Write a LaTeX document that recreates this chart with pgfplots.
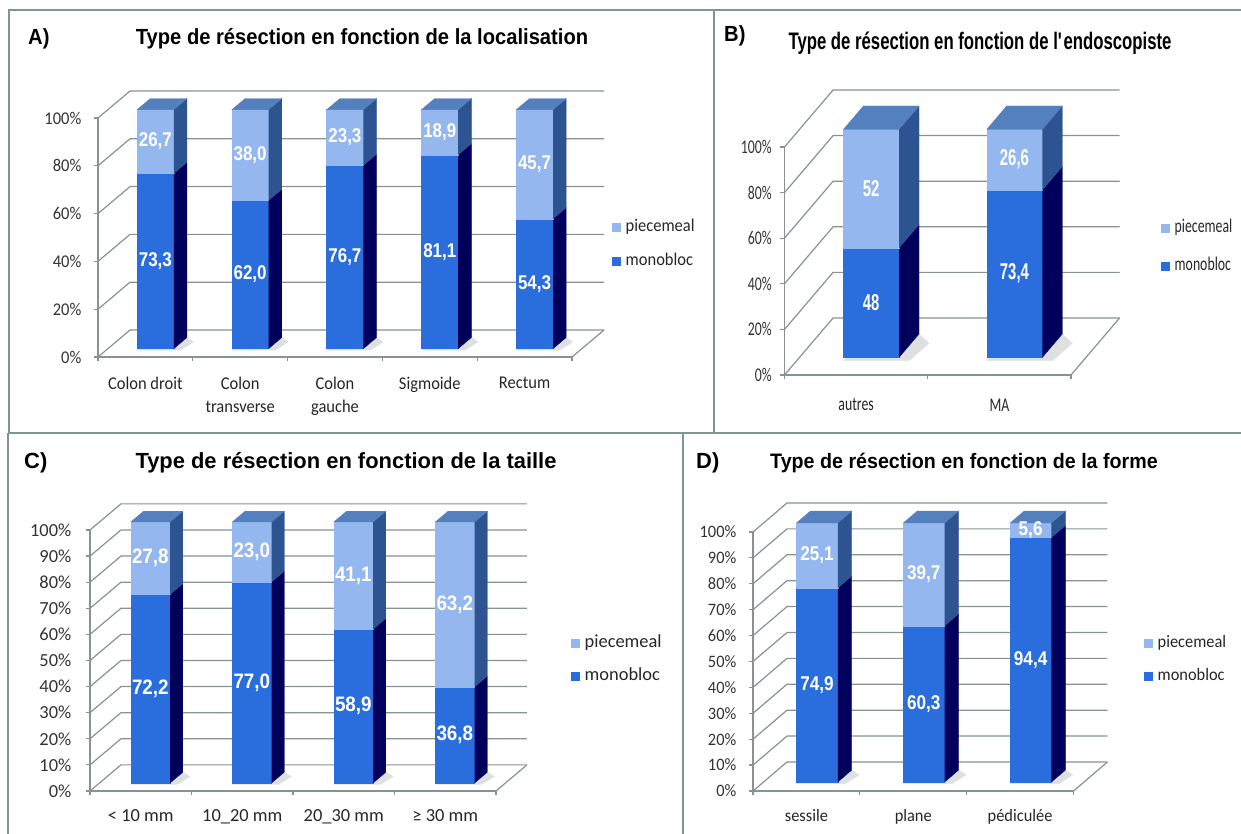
\documentclass[border=0pt]{standalone}
\usepackage{fontspec}
\usepackage{pgfplots}
\pgfplotsset{compat=1.18}
\setmainfont{Carlito}
\newfontfamily\cfA[FakeStretch=0.92]{Carlito}
\newfontfamily\cfB[FakeStretch=0.71]{Carlito}
\newfontfamily\cfC{Carlito}
\newfontfamily\cfD[FakeStretch=0.94]{Carlito}
\newfontfamily\afA[FakeStretch=0.92]{Liberation Sans}
\newfontfamily\afB[FakeStretch=0.70]{Liberation Sans}
\newfontfamily\afC{Liberation Sans}
\newfontfamily\afD[FakeStretch=0.94]{Liberation Sans}
\newfontfamily\nfA[FakeStretch=0.85]{Liberation Sans}
\newfontfamily\nfB[FakeStretch=0.65]{Liberation Sans}
\newfontfamily\nfC[FakeStretch=0.90]{Liberation Sans}
\newfontfamily\nfD[FakeStretch=0.86]{Liberation Sans}

\definecolor{monoF}{HTML}{2A6DDC}
\definecolor{monoS}{HTML}{00005C}
\definecolor{pieceF}{HTML}{93B7EE}
\definecolor{pieceS}{HTML}{2D5391}
\definecolor{topF}{HTML}{5580BE}
\definecolor{gridc}{HTML}{869393}
\definecolor{framec}{HTML}{7E9595}
\definecolor{shad}{HTML}{DDE0E0}

% bar geometry in axis units: width, front depth, bar depth
\def\bw{0.39}
\def\fo{0.31}
\def\bd{0.41}

\pgfplotsset{
  gridline/.style={draw=gridc, line width=1.2bp, mark=none, forget plot},
  face/.style={fill=#1, draw=#1, line width=0.3bp, mark=none, forget plot},
  vals/.style={draw=none, mark=none, forget plot, nodes near coords,
    point meta=explicit symbolic, nodes near coords align={center},
    every node near coord/.append style={text=white, inner sep=0pt}},
  tdaxis/.style={
    scale only axis, anchor=south west, clip=false,
    xmin=0.5, ymin=0, ymax=100,
    axis lines*=left,
    axis line style={draw=gridc, line width=1.2bp},
    tick style={draw=gridc, line width=1.2bp},
    tick align=outside, major tick length=4.5bp,
    x tick label as interval,
    xticklabel style={align=center, text=black!85, inner sep=0pt, anchor=north},
    yticklabel style={text=black!80, inner sep=0pt, anchor=east},
    legend cell align=left,
    legend image code/.code={\fill[##1] (0bp,-4.5bp) rectangle (8.5bp,4.5bp);
      \path (0bp,0bp) -- (13bp,0bp);},
    legend style={draw=none, fill=none, anchor=west, inner sep=0pt,
      nodes={inner sep=0.5bp, text height=12bp, text depth=3.5bp, text=black!85}},
  },
}

\newcommand\gline[2]{%
  \pgfmathsetmacro\ga{0.5+\ddx}%
  \pgfmathsetmacro\gb{#1+\ddy}%
  \pgfmathsetmacro\gc{#2+0.5+\ddx}%
  \addplot[gridline] coordinates {(0.5,#1) (\ga,\gb) (\gc,\gb)};
}
\newcommand\floorend[1]{%
  \pgfmathsetmacro\ga{#1+0.5}%
  \pgfmathsetmacro\gc{#1+0.5+\ddx}%
  \addplot[gridline] coordinates {(\ga,0) (\gc,\ddy)};
}
% #1 category, #2 monobloc, #3 piecemeal, #4 #5 their labels
\newcommand\tdbar[5]{%
  \pgfmathsetmacro\xl{#1+\fo*\ddx-\bw/2}%
  \pgfmathsetmacro\xr{\xl+\bw}%
  \pgfmathsetmacro\xlb{\xl+\bd*\ddx}%
  \pgfmathsetmacro\xrb{\xr+\bd*\ddx}%
  \pgfmathsetmacro\yo{\fo*\ddy}%
  \pgfmathsetmacro\ym{\yo+#2}%
  \pgfmathsetmacro\yt{\ym+#3}%
  \pgfmathsetmacro\yob{\yo+\bd*\ddy}%
  \pgfmathsetmacro\ymb{\ym+\bd*\ddy}%
  \pgfmathsetmacro\ytb{\yt+\bd*\ddy}%
  \pgfmathsetmacro\sxa{\xr+0.07}%
  \pgfmathsetmacro\sxb{\xrb+0.07}%
  \pgfmathsetmacro\sy{\yo-0.06*\ddy}%
  \pgfmathsetmacro\sya{\yo+0.6*\bd*\ddy}%
  \pgfmathsetmacro\xc{(\xl+\xr)/2}%
  \pgfmathsetmacro\ylm{\yo+#2/2}%
  \pgfmathsetmacro\ylp{\ym+#3/2}%
  \addplot[face=shad] coordinates {(\xl,\sy) (\sxa,\sy) (\sxb,\sya) (\xrb,\yob) (\xlb,\yob)};
  \addplot[face=monoF] coordinates {(\xl,\yo) (\xr,\yo) (\xr,\ym) (\xl,\ym)};
  \addplot[face=monoS] coordinates {(\xr,\yo) (\xrb,\yob) (\xrb,\ymb) (\xr,\ym)};
  \addplot[face=pieceF] coordinates {(\xl,\ym) (\xr,\ym) (\xr,\yt) (\xl,\yt)};
  \addplot[face=pieceS] coordinates {(\xr,\ym) (\xrb,\ymb) (\xrb,\ytb) (\xr,\yt)};
  \addplot[face=topF] coordinates {(\xl,\yt) (\xr,\yt) (\xrb,\ytb) (\xlb,\ytb)};
  \addplot[vals] coordinates {(\xc,\ylm) [#4] (\xc,\ylp) [#5]};
}

\begin{document}
\begin{tikzpicture}[x=1bp,y=1bp]

% panel frames
\draw[framec, line width=2bp] (9,824) -- (1241,824);
\draw[framec, line width=2bp] (9,825) -- (9,401);
\draw[framec, line width=2bp] (714,825) -- (714,401);
\draw[framec, line width=2bp] (8,401) -- (1241,401);
\draw[framec, line width=2bp] (8,401) -- (8,0);
\draw[framec, line width=2bp] (683,401) -- (683,0);

% A) localisation
\def\ddx{0.338}\def\ddy{11.3}
\begin{axis}[tdaxis, at={(98bp,477bp)}, width=474bp, height=239bp, xmax=5.5,
  xtick={0.5,1.5,...,5.5},
  xticklabels={Colon droit,{Colon\\transverse},{Colon\\gauche},Sigmoide,Rectum},
  ytick={0,20,...,100}, yticklabels={0\%,20\%,40\%,60\%,80\%,100\%},
  xticklabel style={font=\cfA\fontsize{18}{23}\selectfont, yshift=-15bp},
  yticklabel style={font=\cfA\fontsize{18}{22}\selectfont, xshift=-12bp},
  every node near coord/.append style={font=\nfA\bfseries\fontsize{20}{24}\selectfont},
  legend style={at={(1.0844,0.4707)}, row sep=17.5bp, font=\cfA\fontsize{18}{22}\selectfont},
]
\pgfplotsinvokeforeach{0,20,...,100}{\gline{#1}{5}}
\floorend{5}
\tdbar{1}{73.3}{26.7}{73,3}{26,7}
\tdbar{2}{62.0}{38.0}{62,0}{38,0}
\tdbar{3}{76.7}{23.3}{76,7}{23,3}
\tdbar{4}{81.1}{18.9}{81,1}{18,9}
\tdbar{5}{54.3}{45.7}{54,3}{45,7}
\addlegendimage{fill=pieceF, draw=none}\addlegendentry{piecemeal}
\addlegendimage{fill=monoF, draw=none}\addlegendentry{monobloc}
\end{axis}

% B) endoscopiste
\def\ddx{0.339}\def\ddy{25}
\begin{axis}[tdaxis, at={(784.5bp,459bp)}, width=286.5bp, height=228bp, xmax=2.5,
  xtick={0.5,1.5,2.5}, xticklabels={autres,MA},
  ytick={0,20,...,100}, yticklabels={0\%,20\%,40\%,60\%,80\%,100\%},
  xticklabel style={font=\cfB\fontsize{19.5}{23}\selectfont, yshift=-19bp},
  yticklabel style={font=\cfB\fontsize{19.5}{23}\selectfont, xshift=-8bp},
  every node near coord/.append style={font=\nfB\bfseries\fontsize{23}{27}\selectfont},
  legend style={at={(1.3141,0.559)}, row sep=21.5bp, font=\cfB\fontsize{19.5}{23}\selectfont},
]
\pgfplotsinvokeforeach{0,20,...,100}{\gline{#1}{2}}
\floorend{2}
\tdbar{1}{48}{52}{48}{52}
\tdbar{2}{73.4}{26.6}{73,4}{26,6}
\addlegendimage{fill=pieceF, draw=none}\addlegendentry{piecemeal}
\addlegendimage{fill=monoF, draw=none}\addlegendentry{monobloc}
\end{axis}

% C) taille
\def\ddx{0.305}\def\ddy{10}
\begin{axis}[tdaxis, at={(90bp,43bp)}, width=406bp, height=261bp, xmax=4.5,
  xtick={0.5,1.5,...,4.5},
  xticklabels={< 10 mm,10\_20 mm,20\_30 mm,≥ 30 mm},
  ytick={0,10,...,100},
  yticklabels={0\%,10\%,20\%,30\%,40\%,50\%,60\%,70\%,80\%,90\%,100\%},
  xticklabel style={font=\cfC\fontsize{18.5}{23}\selectfont, yshift=-14bp},
  yticklabel style={font=\cfC\fontsize{18.5}{22}\selectfont, xshift=-14bp},
  every node near coord/.append style={font=\nfC\bfseries\fontsize{21}{25}\selectfont},
  legend style={at={(1.1847,0.502)}, row sep=16.5bp, font=\cfC\fontsize{18.5}{22}\selectfont},
]
\pgfplotsinvokeforeach{0,10,...,100}{\gline{#1}{4}}
\floorend{4}
\tdbar{1}{72.2}{27.8}{72,2}{27,8}
\tdbar{2}{77.0}{23.0}{77,0}{23,0}
\tdbar{3}{58.9}{41.1}{58,9}{41,1}
\tdbar{4}{36.8}{63.2}{36,8}{63,2}
\addlegendimage{fill=pieceF, draw=none}\addlegendentry{piecemeal}
\addlegendimage{fill=monoF, draw=none}\addlegendentry{monobloc}
\end{axis}

% D) forme
\def\ddx{0.318}\def\ddy{11.2}
\begin{axis}[tdaxis, at={(753bp,43bp)}, width=320.5bp, height=259bp, xmax=3.5,
  xtick={0.5,1.5,2.5,3.5},
  xticklabels={sessile,plane,pédiculée},
  ytick={0,10,...,100},
  yticklabels={0\%,10\%,20\%,30\%,40\%,50\%,60\%,70\%,80\%,90\%,100\%},
  xticklabel style={font=\cfD\fontsize{17.5}{22}\selectfont, yshift=-14bp},
  yticklabel style={font=\cfD\fontsize{17.5}{22}\selectfont, xshift=-12bp},
  every node near coord/.append style={font=\nfD\bfseries\fontsize{20}{24}\selectfont},
  legend style={at={(1.22,0.5058)}, row sep=16.5bp, font=\cfD\fontsize{17.5}{22}\selectfont},
]
\pgfplotsinvokeforeach{0,10,...,100}{\gline{#1}{3}}
\floorend{3}
\tdbar{1}{74.9}{25.1}{74,9}{25,1}
\tdbar{2}{60.3}{39.7}{60,3}{39,7}
\tdbar{3}{94.4}{5.6}{94,4}{5,6}
\addlegendimage{fill=pieceF, draw=none}\addlegendentry{piecemeal}
\addlegendimage{fill=monoF, draw=none}\addlegendentry{monobloc}
\end{axis}

% titles
\node[anchor=base west, inner sep=0pt, font=\afA\bfseries\fontsize{22}{26}\selectfont] at (28,789) {A)};
\node[anchor=base, inner sep=0pt, font=\afA\bfseries\fontsize{22}{26}\selectfont] at (362,789) {Type de résection en fonction de la localisation};
\node[anchor=base west, inner sep=0pt, font=\afA\bfseries\fontsize{22}{26}\selectfont] at (724,792) {B)};
\node[anchor=base, inner sep=0pt, font=\afB\bfseries\fontsize{24}{28}\selectfont] at (980,784) {Type de résection en fonction de l\textquotesingle endoscopiste};
\node[anchor=base west, inner sep=0pt, font=\afC\bfseries\fontsize{22}{26}\selectfont] at (24,365) {C)};
\node[anchor=base, inner sep=0pt, font=\afC\bfseries\fontsize{22}{26}\selectfont] at (346,365) {Type de résection en fonction de la taille};
\node[anchor=base west, inner sep=0pt, font=\afC\bfseries\fontsize{22}{26}\selectfont] at (696,365) {D)};
\node[anchor=base, inner sep=0pt, font=\afD\bfseries\fontsize{21}{25}\selectfont] at (964,365) {Type de résection en fonction de la forme};

\pgfresetboundingbox
\path[use as bounding box] (0,0) rectangle (1241,834);
\end{tikzpicture}
\end{document}
